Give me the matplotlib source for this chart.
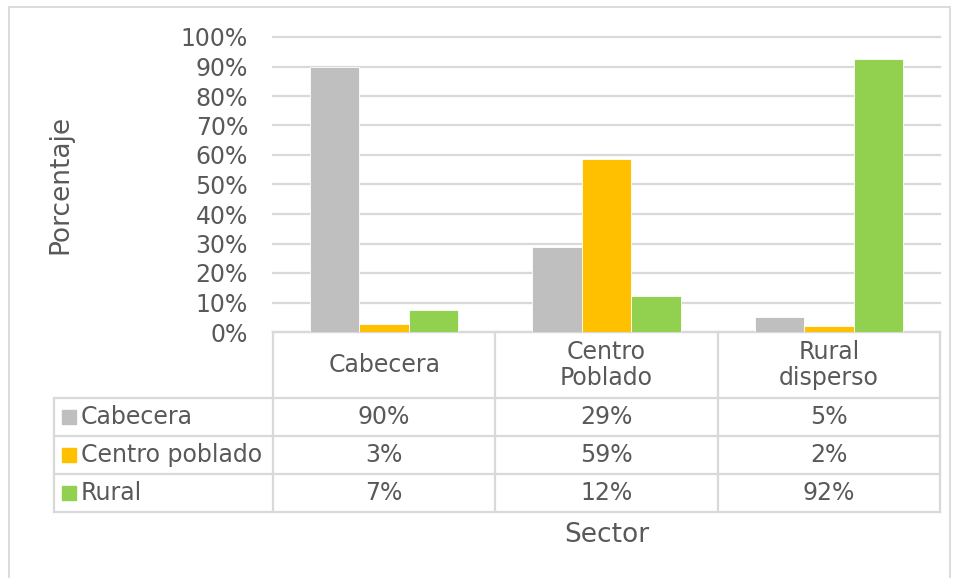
import matplotlib.pyplot as plt
from matplotlib.patches import Rectangle
from matplotlib.ticker import MultipleLocator, PercentFormatter

# data
sectors = ["Cabecera", "Centro\nPoblado", "Rural\ndisperso"]
series = ["Cabecera", "Centro poblado", "Rural"]
cabecera = [0.898, 0.288, 0.050]
centro_poblado = [0.026, 0.586, 0.020]
rural = [0.074, 0.122, 0.924]
values = [cabecera, centro_poblado, rural]
colors = ["#BFBFBF", "#FFC000", "#92D050"]

TXT = "#595959"
GRID = "#D9D9D9"
W, H = 956, 578
FS = 17

plt.rcParams["font.family"] = ["DejaVu Sans"]
fig = plt.figure(figsize=(W / 100, H / 100), dpi=100)


def fx(px):
    return px / W


def fy(py):
    return 1 - py / H


# outer chart frame
fig.add_artist(Rectangle((fx(9), fy(600)), fx(941), (600 - 7) / H, transform=fig.transFigure,
                         fill=False, edgecolor=GRID, lw=1.3))

# plot area
pl, pr, pt, pb = 273, 940, 37, 332
ax = fig.add_axes([fx(pl), fy(pb), fx(pr - pl), (pb - pt) / H])
n = len(sectors)
bw = 2 / 9  # gap width 150%
for i, (vals, c) in enumerate(zip(values, colors)):
    xs = [k + (i - 1) * bw for k in range(n)]
    ax.bar(xs, vals, width=bw, color=c, edgecolor="white", linewidth=0.6, zorder=3)

ax.set_xlim(-0.5, n - 0.5)
ax.set_ylim(0, 1)
ax.yaxis.set_major_locator(MultipleLocator(0.1))
ax.yaxis.set_major_formatter(PercentFormatter(1.0, decimals=0))
ax.tick_params(axis="y", length=0, pad=18, labelsize=FS, labelcolor=TXT)
ax.set_xticks([])
ax.grid(axis="y", color=GRID, lw=1.6, zorder=0)
for gl in ax.get_ygridlines():
    gl.set_clip_on(False)
for s in ["top", "right", "left"]:
    ax.spines[s].set_visible(False)
ax.spines["bottom"].set_color(GRID)
ax.spines["bottom"].set_linewidth(1.6)

fig.text(fx(60), fy((pt + pb) / 2), "Porcentaje", rotation=90, ha="center", va="center",
         fontsize=19, color=TXT)

# data table under the plot
tl, tb = 54, 513
header_h, row_h = 66, 38
col_w = (pr - pl) / n
leg_w = (pl - tl) / col_w
tax = fig.add_axes([fx(tl), fy(tb), fx(pr - tl), (tb - pb) / H])
tax.set_xlim(-0.5 - leg_w, n - 0.5)
tax.set_ylim(tb - pb, 0)
tax.axis("off")

lc = dict(color=GRID, lw=1.6)
y_rows = [header_h + r * row_h for r in range(len(series) + 1)]
for y in y_rows:
    tax.plot([-0.5 - leg_w, n - 0.5], [y, y], **lc, clip_on=False)
tax.plot([-0.5 - leg_w] * 2, [header_h, y_rows[-1]], **lc, clip_on=False)
for k in range(n + 1):
    tax.plot([k - 0.5] * 2, [0, y_rows[-1]], **lc, clip_on=False)

for k, s in enumerate(sectors):
    tax.text(k, header_h / 2, s, ha="center", va="center", fontsize=FS, color=TXT, linespacing=1.1)

left = -0.5 - leg_w
for r, (name, vals, c) in enumerate(zip(series, values, colors)):
    yc = header_h + (r + 0.5) * row_h
    tax.plot([left + 15 / col_w], [yc], marker="s", ms=10, color=c, clip_on=False)
    tax.text(left + 27 / col_w, yc, name, ha="left", va="center", fontsize=FS, color=TXT)
    for k, v in enumerate(vals):
        tax.text(k, yc, f"{round(v * 100)}%", ha="center", va="center", fontsize=FS, color=TXT)

fig.text(fx((pl + pr) / 2), fy(535), "Sector", ha="center", va="center", fontsize=19, color=TXT)

fig.savefig("out.png", dpi=100, facecolor="white")
